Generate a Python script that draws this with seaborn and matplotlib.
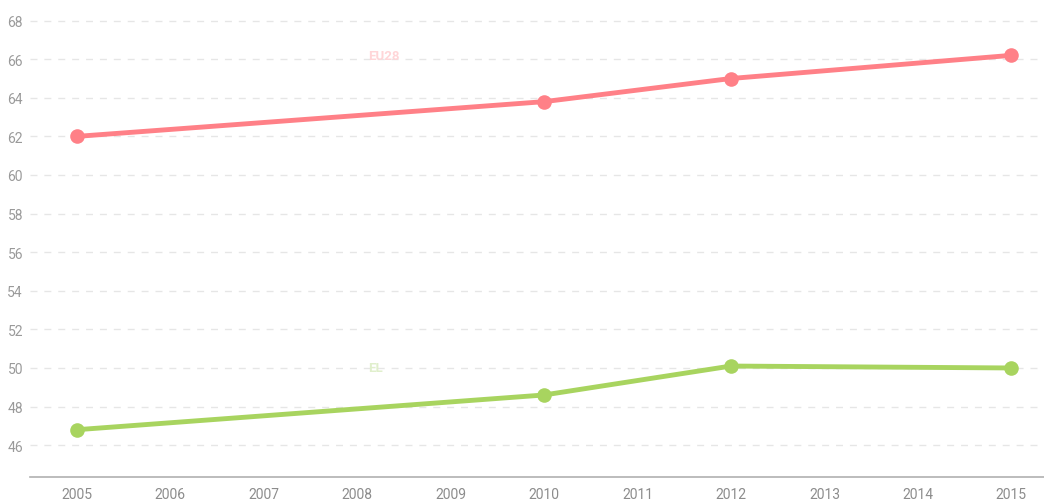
import pandas as pd
import matplotlib.pyplot as plt
import seaborn as sns

# data
years = [2005, 2010, 2012, 2015]
eu28 = [62.0, 63.8, 65.0, 66.2]
el = [46.8, 48.6, 50.1, 50.0]
series_names = ['EU28', 'EL']
colors = {'EU28': '#ff8087', 'EL': '#a8d45f'}
label_colors = {'EU28': '#ffd6d8', 'EL': '#e0efcc'}
label_pos = {'EU28': (2008.12, 66.2), 'EL': (2008.12, 50.0)}

df = pd.DataFrame({
    'year': years * 2,
    'value': eu28 + el,
    'series': ['EU28'] * len(years) + ['EL'] * len(years),
})

sns.set_style('white')
plt.rcParams['font.family'] = ['Roboto', 'DejaVu Sans']

fig = plt.figure(figsize=(10.44, 5.02), dpi=100)
ax = fig.add_axes([30 / 1044, 24 / 502, 1 - 30 / 1044, 1 - 24 / 502])

sns.lineplot(data=df, x='year', y='value', hue='series', palette=colors,
             marker='o', markersize=10.5, markeredgewidth=0, linewidth=3.5,
             legend=False, ax=ax)

for name in series_names:
    x, y = label_pos[name]
    ax.text(x, y, name, color=label_colors[name], fontsize=9.5, fontweight='bold',
            va='center', ha='left')

ax.set_xlim(2004.5, 2015.35)
ax.set_ylim(44.35, 69.12)
ax.set_xticks(range(2005, 2016))
ax.set_yticks(range(46, 69, 2))
ax.set_xlabel('')
ax.set_ylabel('')

ax.grid(axis='y', color='#e6e6e6', linestyle=(0, (5, 5)), linewidth=1)
ax.grid(axis='x', visible=False)
for side in ['top', 'right', 'left']:
    ax.spines[side].set_visible(False)
ax.spines['bottom'].set_color('#b0b0b0')
ax.spines['bottom'].set_linewidth(1.2)

ax.tick_params(axis='x', direction='in', length=18, width=1, color='#b0b0b0',
               labelsize=10, labelcolor='#8c8c8c', pad=7)
ax.tick_params(axis='y', length=0, labelsize=10, labelcolor='#9a9a9a', pad=5)
for lbl in ax.get_yticklabels():
    lbl.set_horizontalalignment('right')

fig.savefig('out.png', dpi=100)
